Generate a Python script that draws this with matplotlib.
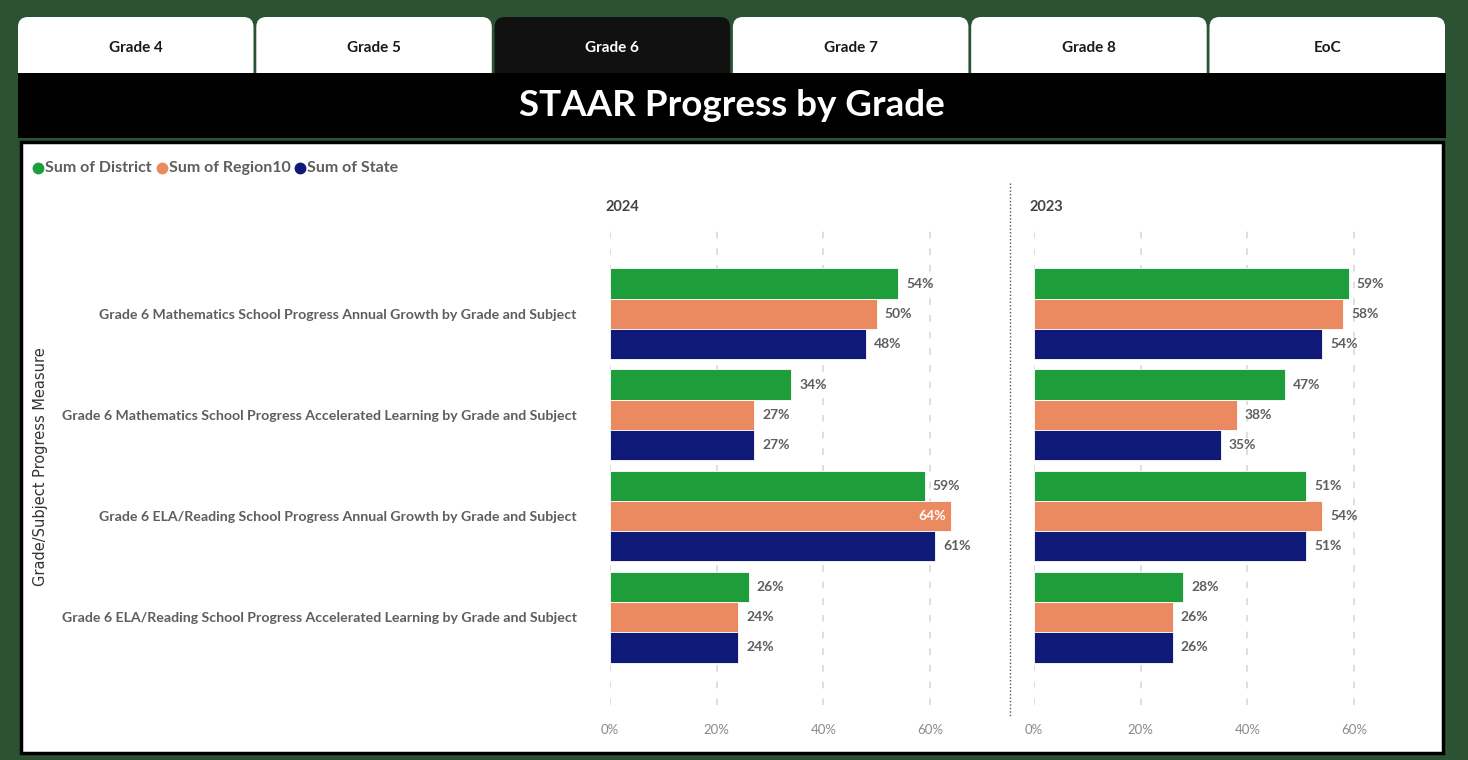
import matplotlib
matplotlib.use("Agg")
import matplotlib.pyplot as plt
from matplotlib.patches import FancyBboxPatch, Rectangle
import numpy as np

W, H = 1468, 760

measures = [
    "Grade 6 Mathematics School Progress Annual Growth by Grade and Subject",
    "Grade 6 Mathematics School Progress Accelerated Learning by Grade and Subject",
    "Grade 6 ELA/Reading School Progress Annual Growth by Grade and Subject",
    "Grade 6 ELA/Reading School Progress Accelerated Learning by Grade and Subject",
]
series = ["Sum of District", "Sum of Region10", "Sum of State"]
colors = ["#1e9e3a", "#eb8a61", "#0f1a78"]

district_2024 = [54, 34, 59, 26]
region10_2024 = [50, 27, 64, 24]
state_2024 = [48, 27, 61, 24]

district_2023 = [59, 47, 51, 28]
region10_2023 = [58, 38, 54, 26]
state_2023 = [54, 35, 51, 26]

tabs = ["Grade 4", "Grade 5", "Grade 6", "Grade 7", "Grade 8", "EoC"]
active_tab = "Grade 6"
xticks = [0, 20, 40, 60]

plt.rcParams['font.family'] = ['Lato', 'DejaVu Sans']

fig = plt.figure(figsize=(W / 100, H / 100), dpi=100)
fig.patch.set_facecolor("#2c5234")

# background / decoration layer in pixel coordinates
bg = fig.add_axes([0, 0, 1, 1])
bg.set_xlim(0, W)
bg.set_ylim(H, 0)
bg.axis("off")

tab_x0, tab_w, tab_gap = 18, 235.5, 2.8
for i, t in enumerate(tabs):
    x0 = tab_x0 + i * (tab_w + tab_gap)
    dark = t == active_tab
    bg.add_patch(FancyBboxPatch((x0 + 10, 27), tab_w - 20, 70,
                                boxstyle="round,pad=10",
                                fc="#111111" if dark else "white",
                                ec="none", zorder=1))
    bg.text(x0 + tab_w / 2, 48, t, ha="center", va="center",
            fontsize=11, fontweight="bold",
            color="white" if dark else "#1a1a1a", zorder=3)

bg.add_patch(Rectangle((18, 73), 1428, 65, fc="black", ec="none", zorder=2))
bg.text(732, 106, "STAAR Progress by Grade", ha="center", va="center",
        fontsize=26.5, fontweight="bold", color="white", zorder=3)

bg.add_patch(Rectangle((21, 142), 1422, 611, fc="white", ec="black",
                       lw=2.5, zorder=2))

# legend
lx = 38
for name, c in zip(series, colors):
    bg.plot(lx, 168, "o", ms=7.5, color=c, zorder=3)
    t = bg.text(lx + 7, 168, name, ha="left", va="center", fontsize=11.5,
                fontweight="bold", color="#605e5c", zorder=3)
    fig.canvas.draw()
    bb = t.get_window_extent()
    lx = bb.x1 + 10

bg.plot([1010, 1010], [183, 716], color="#555555", lw=1, ls=(0, (1, 1.5)), zorder=3)

bg.text(41, 467, "Grade/Subject Progress Measure", rotation=90,
        ha="center", va="center", fontsize=10.5, color="#333333",
        family="DejaVu Sans", zorder=3)

px = 320 / 60.0   # pixels per percent
xmax = 73
ytop, ybot = 228, 705


def panel(x_left, year, vals, show_labels):
    ax = fig.add_axes([x_left / W, 1 - ybot / H, xmax * px / W, (ybot - ytop) / H])
    ax.set_zorder(5)
    ax.patch.set_alpha(0)
    y = np.arange(len(measures))
    h = 0.3
    for k, (v, c) in enumerate(zip(vals, colors)):
        pos = y + (k - 1) * h
        ax.barh(pos, v, height=h, color=c, edgecolor="white", lw=0.6, zorder=3)
        for yy, vv in zip(pos, v):
            if vv > 62:
                ax.text(vv - 1.0, yy, f"{vv}%", ha="right", va="center",
                        fontsize=10, fontweight="bold", color="white", zorder=4)
            else:
                ax.text(vv + 1.5, yy, f"{vv}%", ha="left", va="center",
                        fontsize=10, fontweight="bold", color="#605e5c", zorder=4)
    ax.set_xlim(0, xmax)
    ax.set_ylim(3.87, -0.85)
    ax.set_xticks(xticks)
    ax.set_xticklabels([f"{v}%" for v in xticks], fontsize=9.5, color="#8a8a8a")
    ax.grid(axis="x", color="#d9d9d9", ls=(0, (4, 6)), lw=1.2, zorder=0)
    ax.tick_params(length=0, pad=14)
    for s in ax.spines.values():
        s.set_visible(False)
    if show_labels:
        ax.set_yticks(y)
        ax.set_yticklabels(measures, fontsize=10.2, fontweight="bold", color="#605e5c")
        ax.tick_params(axis="y", pad=24)
    else:
        ax.set_yticks([])
    fig.text((x_left - 5) / W, 1 - 207 / H, year, ha="left", va="center",
             fontsize=10.5, fontweight="bold", color="#444444", zorder=6)
    return ax


panel(610, "2024", [district_2024, region10_2024, state_2024], True)
panel(1034, "2023", [district_2023, region10_2023, state_2023], False)

fig.savefig("out.png", dpi=100, facecolor=fig.get_facecolor())
plt.close(fig)
